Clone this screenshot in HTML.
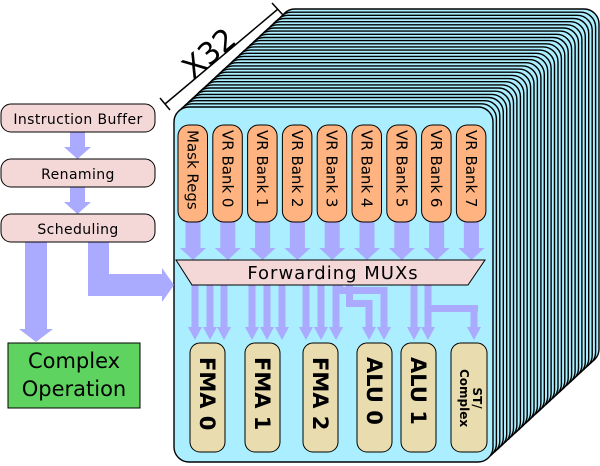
<!DOCTYPE html>
<html><head><style>html,body{margin:0;padding:0;background:#fff}svg{display:block}</style></head><body>
<svg width="600" height="466" viewBox="0 0 600 466" xmlns="http://www.w3.org/2000/svg" xmlns:xlink="http://www.w3.org/1999/xlink" font-family="DejaVu Sans, Liberation Sans, sans-serif">
<defs>
<rect id="layer" x="174" y="107" width="319" height="355" rx="15" fill="#aaeeff" stroke="#000" stroke-width="1.4"/>
<g id="ba" fill="#aaaaff"><rect x="-7.5" y="220" width="15" height="30"/><polygon points="-13,248 13,248 0,260"/></g>
<g id="la" fill="#aaaaff"><rect x="-3.5" y="282" width="7" height="46"/><polygon points="-7,327 7,327 0,340"/></g>
</defs>
<use href="#layer" x="106" y="-98"/>
<use href="#layer" x="102.6" y="-94.8"/>
<use href="#layer" x="99.2" y="-91.7"/>
<use href="#layer" x="95.7" y="-88.5"/>
<use href="#layer" x="92.3" y="-85.3"/>
<use href="#layer" x="88.9" y="-82.2"/>
<use href="#layer" x="85.5" y="-79"/>
<use href="#layer" x="82.1" y="-75.9"/>
<use href="#layer" x="78.6" y="-72.7"/>
<use href="#layer" x="75.2" y="-69.5"/>
<use href="#layer" x="71.8" y="-66.4"/>
<use href="#layer" x="68.4" y="-63.2"/>
<use href="#layer" x="65" y="-60.1"/>
<use href="#layer" x="61.5" y="-56.9"/>
<use href="#layer" x="58.1" y="-53.7"/>
<use href="#layer" x="54.7" y="-50.6"/>
<use href="#layer" x="51.3" y="-47.4"/>
<use href="#layer" x="47.9" y="-44.3"/>
<use href="#layer" x="44.4" y="-41.1"/>
<use href="#layer" x="41" y="-37.9"/>
<use href="#layer" x="37.6" y="-34.8"/>
<use href="#layer" x="34.2" y="-31.6"/>
<use href="#layer" x="30.8" y="-28.4"/>
<use href="#layer" x="27.4" y="-25.3"/>
<use href="#layer" x="23.9" y="-22.1"/>
<use href="#layer" x="20.5" y="-19"/>
<use href="#layer" x="17.1" y="-15.8"/>
<use href="#layer" x="13.7" y="-12.6"/>
<use href="#layer" x="10.3" y="-9.5"/>
<use href="#layer" x="6.8" y="-6.3"/>
<use href="#layer" x="3.4" y="-3.2"/>
<use href="#layer" x="0" y="0"/>
<!-- X32 -->
<g stroke="#000" stroke-width="1.5"><line x1="165" y1="104" x2="278" y2="9"/><line x1="160" y1="98" x2="170" y2="110"/><line x1="272" y1="3" x2="283" y2="15"/></g>
<text x="0" y="0" font-size="30" transform="translate(193,80) rotate(-40)">X32</text>
<!-- left pipeline -->
<g fill="#aaaaff">
<rect x="70" y="132" width="15" height="16"/><polygon points="64,147 91,147 77.5,159"/>
<rect x="70" y="187" width="15" height="16"/><polygon points="64,202 91,202 77.5,214"/>
<rect x="25" y="242" width="22" height="88"/><polygon points="19,329 53,329 36,342"/>
<polygon points="88,242 109,242 109,274 162,274 162,268 174,285 162,302 162,296 88,296"/>
</g>
<g fill="#f4d7d7" stroke="#000" stroke-width="1">
<rect x="1" y="104" width="154" height="28" rx="10"/>
<rect x="1" y="159" width="154" height="28" rx="10"/>
<rect x="1" y="214" width="154" height="28" rx="10"/>
</g>
<g font-size="14" text-anchor="middle" fill="#000" letter-spacing="0.4">
<text x="78" y="124">Instruction Buffer</text>
<text x="78" y="179">Renaming</text>
<text x="78" y="234">Scheduling</text>
</g>
<rect x="8" y="343" width="132" height="65" fill="#5fd35f" stroke="#000" stroke-width="1"/>
<text x="74" y="368" font-size="21" text-anchor="middle">Complex</text>
<text x="74" y="396" font-size="21" text-anchor="middle">Operation</text>
<!-- bank arrows -->
<use href="#ba" x="193"/><use href="#ba" x="227.8"/><use href="#ba" x="262.6"/><use href="#ba" x="297.4"/><use href="#ba" x="332.2"/><use href="#ba" x="367"/><use href="#ba" x="401.8"/><use href="#ba" x="436.6"/><use href="#ba" x="471.4"/>
<!-- banks -->
<g fill="#ffb380" stroke="#000" stroke-width="1">
<rect x="178" y="125" width="29.5" height="97" rx="11"/>
<rect x="212.8" y="125" width="29.5" height="97" rx="11"/>
<rect x="247.6" y="125" width="29.5" height="97" rx="11"/>
<rect x="282.4" y="125" width="29.5" height="97" rx="11"/>
<rect x="317.2" y="125" width="29.5" height="97" rx="11"/>
<rect x="352" y="125" width="29.5" height="97" rx="11"/>
<rect x="386.8" y="125" width="29.5" height="97" rx="11"/>
<rect x="421.6" y="125" width="29.5" height="97" rx="11"/>
<rect x="456.4" y="125" width="29.5" height="97" rx="11"/>
</g>
<g font-size="15">
<text transform="translate(187.5,130) rotate(90)">Mask Regs</text>
<text transform="translate(222.3,130) rotate(90)">VR Bank 0</text>
<text transform="translate(257.1,130) rotate(90)">VR Bank 1</text>
<text transform="translate(291.9,130) rotate(90)">VR Bank 2</text>
<text transform="translate(326.7,130) rotate(90)">VR Bank 3</text>
<text transform="translate(361.5,130) rotate(90)">VR Bank 4</text>
<text transform="translate(396.3,130) rotate(90)">VR Bank 5</text>
<text transform="translate(431.1,130) rotate(90)">VR Bank 6</text>
<text transform="translate(465.9,130) rotate(90)">VR Bank 7</text>
</g>
<!-- lower arrows -->
<use href="#la" x="195"/><use href="#la" x="210"/><use href="#la" x="224"/>
<use href="#la" x="252"/><use href="#la" x="267"/><use href="#la" x="282"/>
<use href="#la" x="306"/><use href="#la" x="321"/><use href="#la" x="336"/>
<use href="#la" x="414"/><use href="#la" x="428"/>
<g fill="#aaaaff">
<rect x="335" y="282" width="8" height="12"/>
<rect x="335" y="287" width="52.5" height="7"/>
<rect x="346" y="282" width="7" height="25"/>
<rect x="346" y="300" width="26.5" height="7"/>
<rect x="365.5" y="300" width="7" height="28"/><polygon points="362,327 376,327 369,340"/>
<rect x="380.5" y="287" width="7" height="41"/><polygon points="377,327 391,327 384,340"/>
<rect x="426" y="305" width="52" height="7"/>
<rect x="470.5" y="305" width="7" height="23"/><polygon points="467,327 481,327 474,340"/>
</g>
<!-- MUX -->
<polygon points="176,260 485,260 468,285 192,285" fill="#f4d7d7" stroke="#000" stroke-width="1"/>
<text x="333" y="279" font-size="18" text-anchor="middle" letter-spacing="1">Forwarding MUXs</text>
<!-- units -->
<g fill="#e9ddaf" stroke="#000" stroke-width="1">
<rect x="190" y="343" width="35" height="109" rx="10"/>
<rect x="245" y="343" width="35" height="109" rx="10"/>
<rect x="303" y="343" width="35" height="109" rx="10"/>
<rect x="357" y="343" width="35" height="109" rx="10"/>
<rect x="401" y="343" width="35" height="109" rx="10"/>
<rect x="451" y="343" width="36" height="109" rx="10"/>
</g>
<g font-size="21" font-weight="bold">
<text transform="translate(200,357) rotate(90)">FMA 0</text>
<text transform="translate(255,357) rotate(90)">FMA 1</text>
<text transform="translate(313,357) rotate(90)">FMA 2</text>
<text transform="translate(367,357) rotate(90)">ALU 0</text>
<text transform="translate(411,357) rotate(90)">ALU 1</text>
</g>
<g font-size="12" font-weight="bold" text-anchor="middle">
<text transform="translate(473,398) rotate(90)">ST/</text>
<text transform="translate(460,398) rotate(90)">Complex</text>
</g>
</svg>
</body></html>
